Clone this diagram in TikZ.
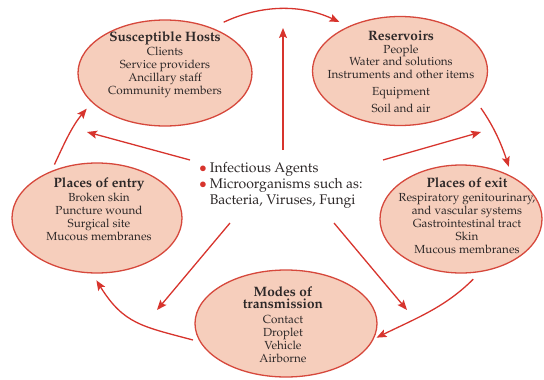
\documentclass[tikz,border=0pt]{standalone}
\usepackage[T1]{fontenc}
\usepackage{mathpazo}
\usetikzlibrary{shapes.geometric,arrows.meta}
\definecolor{edgec}{RGB}{214,72,60}
\definecolor{fillc}{RGB}{246,206,188}
\definecolor{arrc}{RGB}{215,52,45}
\definecolor{txtc}{RGB}{45,40,40}
\newcommand{\ttlf}{\fontsize{13.6}{13}\selectfont\bfseries}
\begin{document}
\begin{tikzpicture}[x=1pt,y=1pt,
  ell/.style={ellipse, draw=edgec, fill=fillc, line width=1.3pt, inner sep=0pt},
  txt/.style={align=center, text=txtc, font=\fontsize{11.7}{13}\selectfont, inner sep=0pt, anchor=north},
  arr/.style={draw=arrc, line width=1.3pt, -{Stealth[length=10pt,width=8pt,inset=2pt]}}]
\useasboundingbox (0,0) rectangle (544,-380);
% ellipses
\node[ell, minimum width=174pt, minimum height=106pt] (hosts) at (165,-73) {};
\node[ell, minimum width=175pt, minimum height=109pt] (res) at (400,-71) {};
\node[ell, minimum width=170pt, minimum height=110pt] (entry) at (97,-218) {};
\node[ell, minimum width=162pt, minimum height=108pt] (exit) at (461,-219) {};
\node[ell, minimum width=182pt, minimum height=107pt] (modes) at (286,-323.5) {};
% texts
\node[txt] (hoststxt) at (165,-31) {{\ttlf Susceptible Hosts}\\[1pt]Clients\\Service providers\\Ancillary staff\\Community members};
\node[txt] (restxt) at (401,-31) {{\ttlf Reservoirs}\\[0pt]People\\[-1pt]Water and solutions\\Instruments and other items\\[4pt]Equipment\\[4pt]Soil and air};
\node[txt] (entrytxt) at (99,-177) {{\ttlf Places of entry}\\[1pt]Broken skin\\Puncture wound\\Surgical site\\Mucous membranes};
\node[txt] (exittxt) at (467,-177) {{\ttlf Places of exit}\\[1pt]Respiratory genitourinary,\\and vascular systems\\Gastrointestinal tract\\Skin\\Mucous membranes};
\node[txt] (modestxt) at (283,-286) {{\ttlf Modes of}\\[-0.5pt]{\ttlf transmission}\\[2pt]Contact\\Droplet\\Vehicle\\Airborne};
% centre text
\node[anchor=base west, inner sep=0pt, text=txtc, font=\fontsize{14}{16}\selectfont] (agent) at (199,-172.5)
  {\begin{tabular}[t]{@{}l@{\hspace{3pt}}l@{}}
   \textcolor{arrc}{$\bullet$} & Infectious Agents\\
   \textcolor{arrc}{$\bullet$} & Microorganisms such as:\\
   & Bacteria, Viruses, Fungi
   \end{tabular}};
% free ends of the centre arrows
\coordinate (uS) at (283,-150); \coordinate (uE) at (283,-28);
\coordinate (hS) at (190,-160); \coordinate (hE) at (87,-132);
\coordinate (rS) at (383,-160); \coordinate (rE) at (481,-132);
\coordinate (lS) at (230,-223); \coordinate (lE) at (157,-310);
\coordinate (dS) at (334,-223); \coordinate (dE) at (407,-310);
\draw[arr] (uS) -- (uE);
\draw[arr] (hS) -- (hE);
\draw[arr] (rS) -- (rE);
\draw[arr] (lS) -- (lE);
\draw[arr] (dS) -- (dE);
% cycle arrows
\draw[arr, shorten <=13pt, shorten >=10pt] (hosts.44) to[out=25,in=155] (res.139);
\draw[arr, shorten <=10pt, shorten >=10pt] (res.-21) to[out=-55,in=108] (exit.40);
\draw[arr, shorten <=10pt, shorten >=3pt] (exit.-70) to[out=-135,in=26] (modes.-10);
\draw[arr, shorten <=7pt, shorten >=8pt] (modes.192) to[out=165,in=-58,looseness=1.2] (entry.-95);
\draw[arr, shorten <=7pt, shorten >=8pt] (entry.134) to[out=65,in=-130] (hosts.202);
\end{tikzpicture}
\end{document}
